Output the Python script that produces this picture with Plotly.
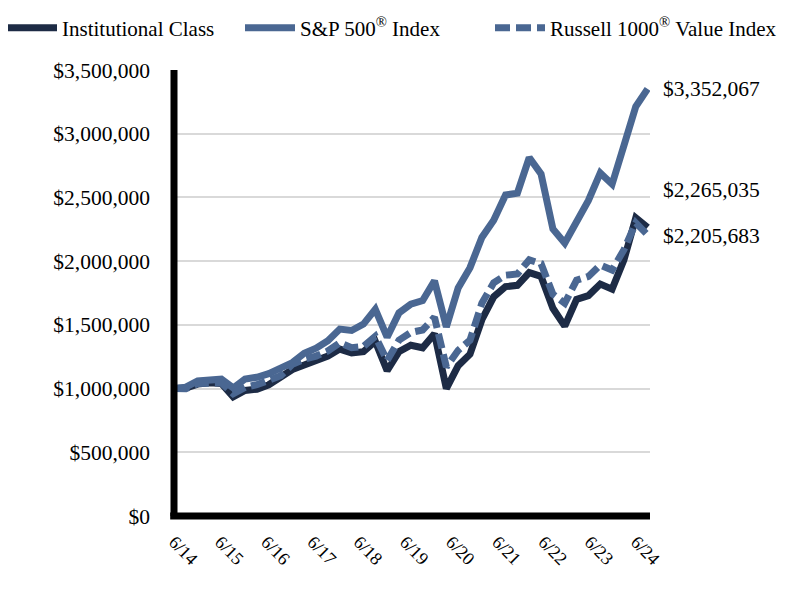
import plotly.graph_objects as go

quarters = ["6/14","9/14","12/14","3/15","6/15","9/15","12/15","3/16","6/16","9/16","12/16",
            "3/17","6/17","9/17","12/17","3/18","6/18","9/18","12/18","3/19","6/19","9/19",
            "12/19","3/20","6/20","9/20","12/20","3/21","6/21","9/21","12/21","3/22","6/22",
            "9/22","12/22","3/23","6/23","9/23","12/23","3/24","6/24"]

institutional = [1000000, 1005000, 1035000, 1045000, 1040000, 935000, 985000, 995000, 1030000,
                 1085000, 1150000, 1185000, 1215000, 1255000, 1310000, 1280000, 1290000, 1370000,
                 1140000, 1290000, 1340000, 1320000, 1430000, 1000000, 1180000, 1270000, 1540000,
                 1720000, 1800000, 1810000, 1910000, 1880000, 1630000, 1490000, 1700000, 1730000,
                 1820000, 1780000, 2010000, 2340000, 2265035]

sp500 = [1000000, 1011000, 1060000, 1070000, 1074000, 1005000, 1075000, 1089000, 1117000,
         1160000, 1204000, 1277000, 1317000, 1376000, 1467000, 1456000, 1506000, 1622000,
         1403000, 1594000, 1663000, 1691000, 1846000, 1484000, 1789000, 1949000, 2186000,
         2321000, 2519000, 2533000, 2813000, 2684000, 2252000, 2142000, 2303000, 2476000,
         2692000, 2604000, 2908000, 3214000, 3352067]

russell = [1000000, 998000, 1040000, 1040000, 1045000, 960000, 1010000, 1030000, 1060000,
           1100000, 1190000, 1230000, 1255000, 1295000, 1360000, 1320000, 1330000, 1410000,
           1220000, 1380000, 1440000, 1460000, 1560000, 1170000, 1300000, 1380000, 1670000,
           1830000, 1890000, 1900000, 2010000, 1980000, 1740000, 1670000, 1850000, 1880000,
           1970000, 1930000, 2090000, 2300000, 2205683]

year_labels = ["6/14","6/15","6/16","6/17","6/18","6/19","6/20","6/21","6/22","6/23","6/24"]
y_ticks = [0, 500000, 1000000, 1500000, 2000000, 2500000, 3000000, 3500000]
y_labels = ["$0", "$500,000", "$1,000,000", "$1,500,000", "$2,000,000",
            "$2,500,000", "$3,000,000", "$3,500,000"]

end_labels = ["$3,352,067", "$2,265,035", "$2,205,683"]
end_label_y = [3352067, 2559000, 2198000]

FONT = "Liberation Serif, Times New Roman, serif"
NAVY = "#1d2b45"
BLUE = "#4a6792"

W, H = 796, 604          # page body has an 8px margin
L, R, T, B = 166, 154, 62, 96
PW = W - L - R
X_MAX = 40.2
px_per_q = PW / X_MAX
step = 46.2 / px_per_q

x = list(range(len(quarters)))

fig = go.Figure()
fig.add_trace(go.Scatter(x=x, y=institutional, mode="lines", name="Institutional Class",
                         line=dict(color=NAVY, width=7), customdata=quarters, legend="legend"))
fig.add_trace(go.Scatter(x=x, y=sp500, mode="lines", name="S&P 500<sup>®</sup> Index",
                         line=dict(color=BLUE, width=7), customdata=quarters, legend="legend2"))
fig.add_trace(go.Scatter(x=x, y=russell, mode="lines", name="Russell 1000<sup>®</sup> Value Index",
                         line=dict(color=BLUE, width=7, dash="15px,6px"), customdata=quarters,
                         legend="legend3"))

for txt, yv in zip(end_labels, end_label_y):
    fig.add_annotation(x=1.0, xref="paper", xanchor="left", xshift=11, y=yv, yref="y",
                       text=txt, showarrow=False, font=dict(family=FONT, size=21.5, color="black"))

# axis lines centred on the plot edges
fig.add_shape(type="line", xref="paper", yref="paper", x0=0, x1=0, y0=0, y1=1,
              line=dict(color="black", width=7), layer="above")
fig.add_shape(type="line", xref="paper", yref="paper", x0=-0.008, x1=1, y0=0, y1=0,
              line=dict(color="black", width=7), layer="above")

fig.update_xaxes(range=[0, X_MAX], tickmode="array",
                 tickvals=[i * step for i in range(len(year_labels))], ticktext=year_labels,
                 tickangle=45, showgrid=False, showline=False,
                 ticks="", zeroline=False, automargin=False, ticklabelstandoff=11,
                 tickfont=dict(family=FONT, size=18, color="black"))
fig.update_yaxes(range=[0, 3500000], tickmode="array", tickvals=y_ticks, ticktext=y_labels,
                 showgrid=True, gridcolor="#d9d9d9", gridwidth=2, showline=False,
                 zeroline=False, ticks="", automargin=False,
                 ticklabelstandoff=23,
                 tickfont=dict(family=FONT, size=21.5, color="black"))

leg_common = dict(orientation="h", yref="container", y=1 - 20 / H,
                  xanchor="left", yanchor="middle", itemwidth=50,
                  font=dict(family=FONT, size=21, color="black"), bgcolor="rgba(0,0,0,0)")

fig.update_layout(
    width=W, height=H,
    margin=dict(l=L, r=R, t=T, b=B, autoexpand=False),
    paper_bgcolor="white", plot_bgcolor="white",
    font=dict(family=FONT, color="black"),
    showlegend=True,
    legend=dict(xref="paper", x=(-6 - L) / PW, **leg_common),
    legend2=dict(xref="container", x=232 / W, **leg_common),
    legend3=dict(xref="container", x=482 / W, **leg_common),
)

fig.write_html("out.html")
